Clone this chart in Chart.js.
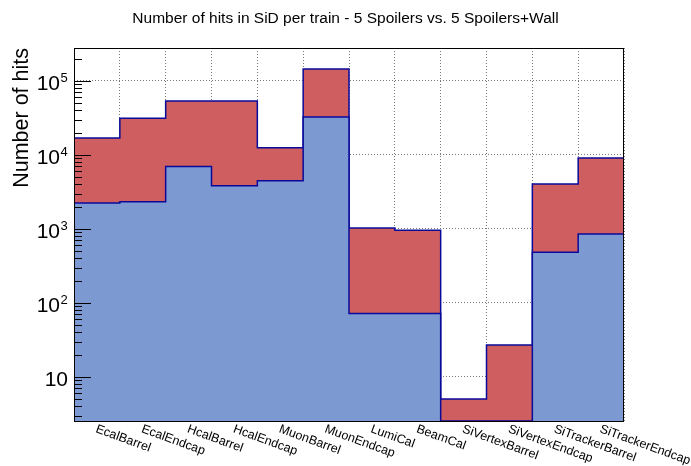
<!DOCTYPE html>
<html><head><meta charset="utf-8">
<script src="https://cdn.jsdelivr.net/npm/chart.js@4/dist/chart.umd.min.js"></script>
<style>html,body{margin:0;padding:0;background:#fff;}#wrap{position:relative;width:691px;height:466px;}</style>
</head><body><div id="wrap"><canvas id="c" width="691" height="466"></canvas></div>
<script>
const categories = ['EcalBarrel','EcalEndcap','HcalBarrel','HcalEndcap','MuonBarrel','MuonEndcap','LumiCal','BeamCal','SiVertexBarrel','SiVertexEndcap','SiTrackerBarrel','SiTrackerEndcap'];
const hits5Spoilers = [17000, 31300, 53700, 53700, 12500, 145000, 1030, 960, 5.05, 27, 4050, 9100];
const hits5SpoilersWall = [2240, 2340, 7000, 3850, 4500, 32700, 72, 72, 0, 0, 483, 855];
const yDecades = [10, 100, 1000, 10000, 100000];
const yMin = 2.54, yMax = 2.79e5;
const FONT = "'Liberation Sans', Arial, Helvetica, sans-serif";

function stepPoints(vals){
  const pts = [];
  vals.forEach((v, i) => { const y = Math.max(v, yMin); pts.push({x: i, y: y}); pts.push({x: i + 1, y: y}); });
  return pts;
}

const rootDecor = {
  id: 'rootDecor',
  afterDraw(chart){
    const ctx = chart.ctx, a = chart.chartArea, xs = chart.scales.x, ys = chart.scales.y;
    ctx.save();
    // frame
    ctx.strokeStyle = '#000'; ctx.lineWidth = 1; ctx.setLineDash([]);
    ctx.strokeRect(Math.round(a.left) + 0.5, Math.round(a.top) + 0.5, Math.round(a.right - a.left) - 1, Math.round(a.bottom - a.top));
    // y tick marks
    ctx.beginPath();
    for (let k = Math.floor(Math.log10(yMin)); k <= Math.ceil(Math.log10(yMax)); k++) {
      for (let m = 1; m <= 9; m++) {
        const v = m * Math.pow(10, k);
        if (v < yMin || v > yMax) continue;
        const y = Math.round(ys.getPixelForValue(v)) + 0.5;
        const len = m === 1 ? 17 : 8;
        ctx.moveTo(a.left, y); ctx.lineTo(a.left + len, y);
      }
    }
    ctx.stroke();
    // y labels
    ctx.fillStyle = '#000';
    yDecades.forEach(v => {
      const e = Math.round(Math.log10(v));
      const y = ys.getPixelForValue(v);
      ctx.textBaseline = 'alphabetic';
      ctx.textAlign = 'right';
      if (e === 1) {
        ctx.font = '21px ' + FONT;
        ctx.fillText('10', a.left - 6, y + 9);
      } else {
        ctx.font = '21px ' + FONT;
        ctx.fillText('10', a.left - 14, y + 9);
        ctx.textAlign = 'left';
        ctx.font = '13px ' + FONT;
        ctx.fillText(String(e), a.left - 13.5, y + 1);
      }
    });
    // y title
    ctx.save();
    ctx.translate(28, a.top);
    ctx.rotate(-Math.PI / 2);
    ctx.font = '21.5px ' + FONT;
    ctx.textAlign = 'right'; ctx.textBaseline = 'alphabetic';
    ctx.fillText('Number of hits', 0, 0);
    ctx.restore();
    // title
    ctx.font = '15.5px ' + FONT;
    ctx.textAlign = 'center'; ctx.textBaseline = 'alphabetic';
    ctx.fillText('Number of hits in SiD per train - 5 Spoilers vs. 5 Spoilers+Wall', chart.width / 2, 23);
    // x labels
    ctx.font = '12.5px ' + FONT;
    ctx.textAlign = 'left';
    categories.forEach((c, i) => {
      const cx = xs.getPixelForValue(i + 0.5);
      ctx.save();
      ctx.translate(cx - 2, a.bottom + 11);
      ctx.rotate(20 * Math.PI / 180);
      ctx.fillText(c, 0, 0);
      ctx.restore();
    });
    ctx.restore();
  }
};

new Chart(document.getElementById('c').getContext('2d'), {
  type: 'line',
  data: {
    datasets: [
      {label: '5 Spoilers+Wall', data: stepPoints(hits5SpoilersWall), borderColor: '#0a0a9a', backgroundColor: '#7d99d1', fill: 'start', order: 0},
      {label: '5 Spoilers', data: stepPoints(hits5Spoilers), borderColor: '#0a0a9a', backgroundColor: '#cf5e61', fill: 'start', order: 1}
    ]
  },
  options: {
    responsive: false, animation: false, devicePixelRatio: 1,
    layout: {padding: {left: 74, right: 67, top: 48, bottom: 45}},
    elements: {point: {radius: 0, hoverRadius: 0}, line: {tension: 0, borderWidth: 1.5}},
    plugins: {legend: {display: false}, tooltip: {enabled: false}, title: {display: false}},
    scales: {
      x: {type: 'linear', min: 0, max: categories.length,
          ticks: {display: false, stepSize: 1},
          grid: {drawTicks: false, color: '#777', lineWidth: 1},
          border: {display: false, dash: [1, 2]}},
      y: {type: 'logarithmic', min: yMin, max: yMax,
          ticks: {display: false},
          afterBuildTicks: s => { s.ticks = yDecades.map(v => ({value: v})); },
          grid: {drawTicks: false, color: '#777', lineWidth: 1},
          border: {display: false, dash: [1, 2]}}
    }
  },
  plugins: [rootDecor]
});
</script></body></html>
